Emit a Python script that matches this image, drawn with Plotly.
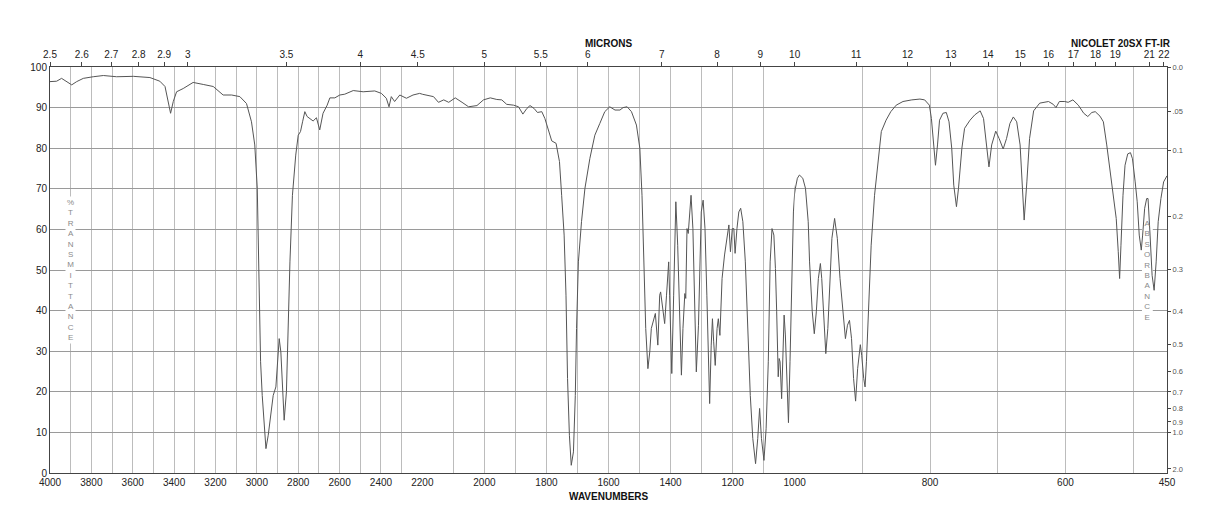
import plotly.graph_objects as go

# ---------------- data ----------------
wavenumber = [
    4000, 3968, 3944, 3919, 3895, 3871, 3839, 3791, 3742, 3678, 3597, 3517, 3469, 3444,
    3428, 3417, 3404, 3388, 3356, 3308, 3259, 3211, 3163, 3122, 3082, 3050, 3026, 3010,
    2998, 2990, 2982, 2974, 2964, 2956, 2945, 2934, 2921, 2908, 2900, 2892, 2884, 2876,
    2868, 2857, 2849, 2840, 2828, 2812, 2800, 2789, 2779, 2768, 2757, 2744, 2728, 2712,
    2696, 2680, 2660, 2647, 2623, 2599, 2575, 2534, 2486, 2430, 2398, 2374, 2361, 2350,
    2334, 2309, 2277, 2245, 2213,
    2174, 2164, 2148, 2131, 2115, 2094, 2072, 2051, 2024, 2003, 1981, 1960, 1944, 1928,
    1906, 1890, 1876, 1863, 1853, 1840, 1829, 1815, 1805, 1794, 1783, 1769, 1758, 1751,
    1743, 1737, 1732, 1726, 1720, 1713, 1707, 1703, 1697, 1687, 1676, 1660, 1644, 1628,
    1612, 1596, 1579, 1563, 1553, 1540, 1526, 1510, 1499, 1492, 1485, 1480, 1473, 1467,
    1462, 1456, 1449, 1441, 1435, 1432, 1426, 1419, 1413, 1406, 1403, 1396, 1390, 1383,
    1377, 1370, 1365, 1360, 1354, 1351, 1347, 1343, 1338, 1334, 1328, 1322, 1317, 1310,
    1306, 1301, 1295, 1289, 1283, 1274, 1269, 1265, 1261, 1256, 1250, 1246, 1241, 1234,
    1226, 1218, 1212, 1207, 1201, 1196, 1192, 1186, 1180, 1174, 1167, 1159, 1151, 1143,
    1135, 1126, 1119, 1113, 1107, 1099, 1092, 1085, 1079, 1073, 1067, 1062, 1058, 1053,
    1050, 1047, 1042, 1038, 1034, 1030, 1025, 1020, 1015, 1009, 1004, 999, 996,
    993, 988, 984, 980, 978, 974, 971, 968, 965, 962, 960, 957, 954, 951, 948, 945, 941,
    937, 933, 929, 925, 922, 919, 916, 913, 910, 907, 903, 901, 898, 896, 894, 891, 887,
    882, 877, 872, 865, 858, 850, 840, 827, 815, 808, 801, 798, 795, 792, 789, 786, 781,
    776, 772, 768, 765, 761, 758, 753, 749, 741, 734, 726, 721, 717, 713, 709, 703, 698,
    692, 687, 682, 677, 672, 667, 664, 661, 657, 653, 647, 638, 625, 618, 614, 609, 601,
    596, 589, 581, 573, 567, 561, 556, 549, 544, 539, 534, 529, 525, 522, 520, 518, 515,
    512, 508, 504, 501, 497, 494, 491, 488, 486, 483, 480, 478, 475, 472, 469, 466, 463,
    459, 455, 450,
]
transmittance = [
    96.4, 96.5, 97.2, 96.4, 95.6, 96.4, 97.2, 97.6, 97.9, 97.6, 97.7, 97.4, 96.5, 95.2,
    91.5, 88.6, 91.5, 93.9, 94.7, 96.2, 95.7, 95.2, 93.1, 93.1, 92.7, 91.0, 86.5, 80.8,
    70.1, 52.0, 27.4, 19.1, 10.9, 6.0, 9.3, 14.2, 19.1, 21.2, 27.4, 33.1, 29.8, 19.1,
    13.0, 20.0, 35.6, 52.0, 68.4, 78.3, 83.2, 84.1, 86.5, 89.0, 87.8, 87.3, 86.7, 87.5,
    84.5, 88.6, 90.6, 92.4, 92.4, 93.1, 93.3, 94.2, 93.9, 94.1, 93.5, 92.3, 90.2, 92.7,
    91.5, 93.1, 92.3, 93.1, 93.5,
    92.9, 92.7, 91.3, 91.9, 91.3, 92.4, 91.3, 90.2, 90.5, 91.9, 92.4, 92.0, 91.9, 90.8,
    90.6, 90.2, 88.4, 89.8, 90.5, 89.8, 88.8, 89.0, 87.3, 84.5, 81.8, 81.2, 76.7, 68.4,
    58.6, 43.8, 23.3, 9.3, 1.9, 5.2, 19.1, 35.6, 52.0, 61.9, 70.1, 77.5, 83.2, 86.1,
    89.0, 90.2, 89.4, 89.4, 90.0, 90.2, 89.0, 85.7, 80.0, 68.4, 52.0, 35.6, 25.7, 29.8,
    35.6, 37.2, 39.3, 31.5, 43.8, 44.6, 40.5, 36.8, 43.8, 52.0, 43.8, 24.5, 43.8, 66.8,
    56.1, 35.6, 24.1, 35.6, 44.2, 43.0, 60.2, 59.0, 64.3, 68.4, 60.2, 43.8, 24.9, 36.4,
    48.7, 64.3, 67.2, 60.2, 43.8, 17.1, 31.5, 38.0, 32.3, 26.5, 35.6, 38.0, 33.9, 47.9,
    53.7, 57.8, 61.1, 54.5, 60.2, 60.2, 54.1, 60.2, 64.3, 65.2, 61.9, 52.0, 35.6, 19.1,
    8.5, 2.3, 8.5, 15.9, 8.5, 3.1, 10.9, 27.4, 52.0, 60.2, 58.6, 50.4, 39.7, 23.7,
    28.2, 27.4, 18.3, 27.4, 38.9, 34.0, 23.3, 12.4, 27.4, 47.9, 64.3, 70.1, 72.6,
    73.4, 72.6, 70.1, 61.9, 52.0, 39.7, 34.3, 39.7, 47.9, 51.6, 47.9, 37.2, 29.4, 35.6, 47.9, 57.8, 62.7,
    57.8, 47.9, 39.7, 33.1, 36.4, 37.6, 33.1, 23.3, 17.7, 25.7, 31.6, 29.0, 23.3, 21.2, 27.4, 39.7, 56.1,
    68.4, 76.7, 84.1, 86.9, 89.0, 90.6, 91.5, 91.9, 92.1, 91.9, 90.6, 87.3, 80.8, 75.8, 80.8, 86.9, 88.6,
    88.8, 86.5, 80.0, 70.9, 65.6, 70.1, 80.0, 84.9, 86.9, 88.2, 89.2, 87.3, 80.8, 75.4, 80.8, 84.2, 82.4,
    79.8, 82.4, 86.1, 87.7, 86.5, 80.8, 70.1, 62.3, 71.7, 82.4, 89.2, 91.1, 91.5, 90.8, 90.0, 91.5, 91.5,
    91.3, 91.9, 90.6, 88.6, 87.8, 88.8, 89.0, 87.9, 86.5, 80.8, 74.2, 68.4, 62.7, 54.5, 47.9, 56.1, 68.4,
    75.8, 78.6, 78.9, 77.4, 71.7, 66.8, 58.6, 54.9, 58.6, 65.2, 67.6, 67.6, 58.6, 48.7, 45.0, 52.0, 61.9,
    67.6, 71.7, 73.2,
]

# axis segments (the chart scale changes at 2200 and 1000 cm-1)
segment_ranges = [[4000, 2200], [2200, 1000], [1000, 450]]
wavenumber_ticks = [
    [4000, 3800, 3600, 3400, 3200, 3000, 2800, 2600, 2400],
    [2200, 2000, 1800, 1600, 1400, 1200],
    [1000, 800, 600, 450],
]
micron_ticks = [
    [2.5, 2.6, 2.7, 2.8, 2.9, 3, 3.5, 4, 4.5],
    [5, 5.5, 6, 7, 8, 9, 10],
    [11, 12, 13, 14, 15, 16, 17, 18, 19, 21, 22],
]
absorbance_ticks = [0.0, 0.05, 0.1, 0.2, 0.3, 0.4, 0.5, 0.6, 0.7, 0.8, 0.9, 1.0, 2.0]
absorbance_labels = ["0.0", ".05", "0.1", "0.2", "0.3", "0.4", "0.5", "0.6", "0.7",
                     "0.8", "0.9", "1.0", "2.0"]

# ---------------- styling ----------------
FONT = "Liberation Sans, Arial, Helvetica, sans-serif"
LINE_COLOR = "#555555"
AXIS_COLOR = "#444444"
VGRID = "#bcbcbc"
HGRID = "#9a9a9a"
TICK_FONT = dict(family=FONT, size=10, color="#222222")

fig = go.Figure()
domains = [[0, 1 / 3], [1 / 3, 2 / 3], [2 / 3, 1]]

for i in range(3):
    fig.add_trace(go.Scatter(
        x=wavenumber, y=transmittance, mode="lines",
        xaxis="x" if i == 0 else f"x{i + 1}", yaxis="y",
        line=dict(color=LINE_COLOR, width=1),
        hoverinfo="skip", showlegend=False,
    ))
# empty traces so that the top (micron) axes and right (absorbance) axis are drawn
for i in range(3):
    fig.add_trace(go.Scatter(x=[None], y=[None], xaxis=f"x{i + 4}", yaxis="y",
                             showlegend=False, hoverinfo="skip"))
fig.add_trace(go.Scatter(x=[None], y=[None], xaxis="x3", yaxis="y2",
                         showlegend=False, hoverinfo="skip"))

layout = dict(
    width=1218, height=528,
    margin=dict(l=50, r=51, t=67, b=55),
    paper_bgcolor="white", plot_bgcolor="white",
    font=dict(family=FONT, size=10, color="#222222"),
    showlegend=False,
)

for i in range(3):
    key = "xaxis" if i == 0 else f"xaxis{i + 1}"
    layout[key] = dict(
        domain=domains[i], range=segment_ranges[i], anchor="y",
        tickmode="array", tickvals=wavenumber_ticks[i],
        ticktext=[str(v) for v in wavenumber_ticks[i]],
        ticks="", tickfont=TICK_FONT,
        showgrid=True, gridcolor=VGRID, gridwidth=1,
        minor=dict(tickmode="linear", tick0=0, dtick=100, showgrid=True,
                   gridcolor=VGRID, gridwidth=1, ticks=""),
        showline=True, linecolor=AXIS_COLOR, linewidth=1,
        zeroline=False, fixedrange=True,
    )
    top_key = f"xaxis{i + 4}"
    layout[top_key] = dict(
        overlaying="x" if i == 0 else f"x{i + 1}", side="top", anchor="y",
        range=segment_ranges[i],
        tickmode="array", tickvals=[10000 / m for m in micron_ticks[i]],
        ticktext=[f"{m:g}" for m in micron_ticks[i]],
        ticks="outside", ticklen=4, tickcolor=AXIS_COLOR, tickwidth=1,
        tickfont=TICK_FONT, showgrid=False,
        showline=True, linecolor=AXIS_COLOR, linewidth=1,
        zeroline=False, fixedrange=True,
    )

layout["yaxis"] = dict(
    domain=[0, 1], range=[0, 100], anchor="x",
    tickmode="linear", tick0=0, dtick=10, ticks="",
    tickfont=TICK_FONT,
    showgrid=True, gridcolor=HGRID, gridwidth=1,
    showline=True, linecolor=AXIS_COLOR, linewidth=1,
    zeroline=False, fixedrange=True,
)
layout["yaxis2"] = dict(
    overlaying="y", side="right", anchor="x3", range=[0, 100],
    tickmode="array", tickvals=[100 * 10 ** (-a) for a in absorbance_ticks],
    ticktext=absorbance_labels,
    ticks="outside", ticklen=3, tickcolor=AXIS_COLOR, tickwidth=1,
    tickfont=dict(family=FONT, size=7.5, color="#555555"),
    showgrid=False, showline=True, linecolor=AXIS_COLOR, linewidth=1,
    zeroline=False, fixedrange=True,
)

fig.update_layout(**layout)

# white patch behind the ABSORBANCE label (hides grid lines, not the curve)
fig.add_shape(type="rect", xref="x3", yref="y", x0=487, x1=471, y0=37.2, y1=62.8,
              fillcolor="white", line=dict(width=0), layer="between")

vert_t = "<br>".join(list("%TRANSMITTANCE"))
vert_a = "<br>".join(list("ABSORBANCE"))
fig.add_annotation(x=3900, y=50, xref="x", yref="y", text=vert_t, showarrow=False,
                   font=dict(family=FONT, size=8, color="#8a8a8a"),
                   bgcolor="white", borderpad=1, align="center")
fig.add_annotation(x=479, y=50, xref="x3", yref="y", text=vert_a, showarrow=False,
                   font=dict(family=FONT, size=8, color="#8a8a8a"), align="center")

bold = dict(family=FONT, size=10, color="#111111")
fig.add_annotation(x=0.5, y=1.0567, xref="paper", yref="paper", text="<b>MICRONS</b>",
                   showarrow=False, font=bold, xanchor="center", yanchor="middle")
fig.add_annotation(x=0.9588, y=1.0567, xref="paper", yref="paper",
                   text="<b>NICOLET 20SX FT-IR</b>",
                   showarrow=False, font=bold, xanchor="center", yanchor="middle")
fig.add_annotation(x=0.5, y=-0.059, xref="paper", yref="paper", text="<b>WAVENUMBERS</b>",
                   showarrow=False, font=bold, xanchor="center", yanchor="middle")

fig.write_html("out.html")
